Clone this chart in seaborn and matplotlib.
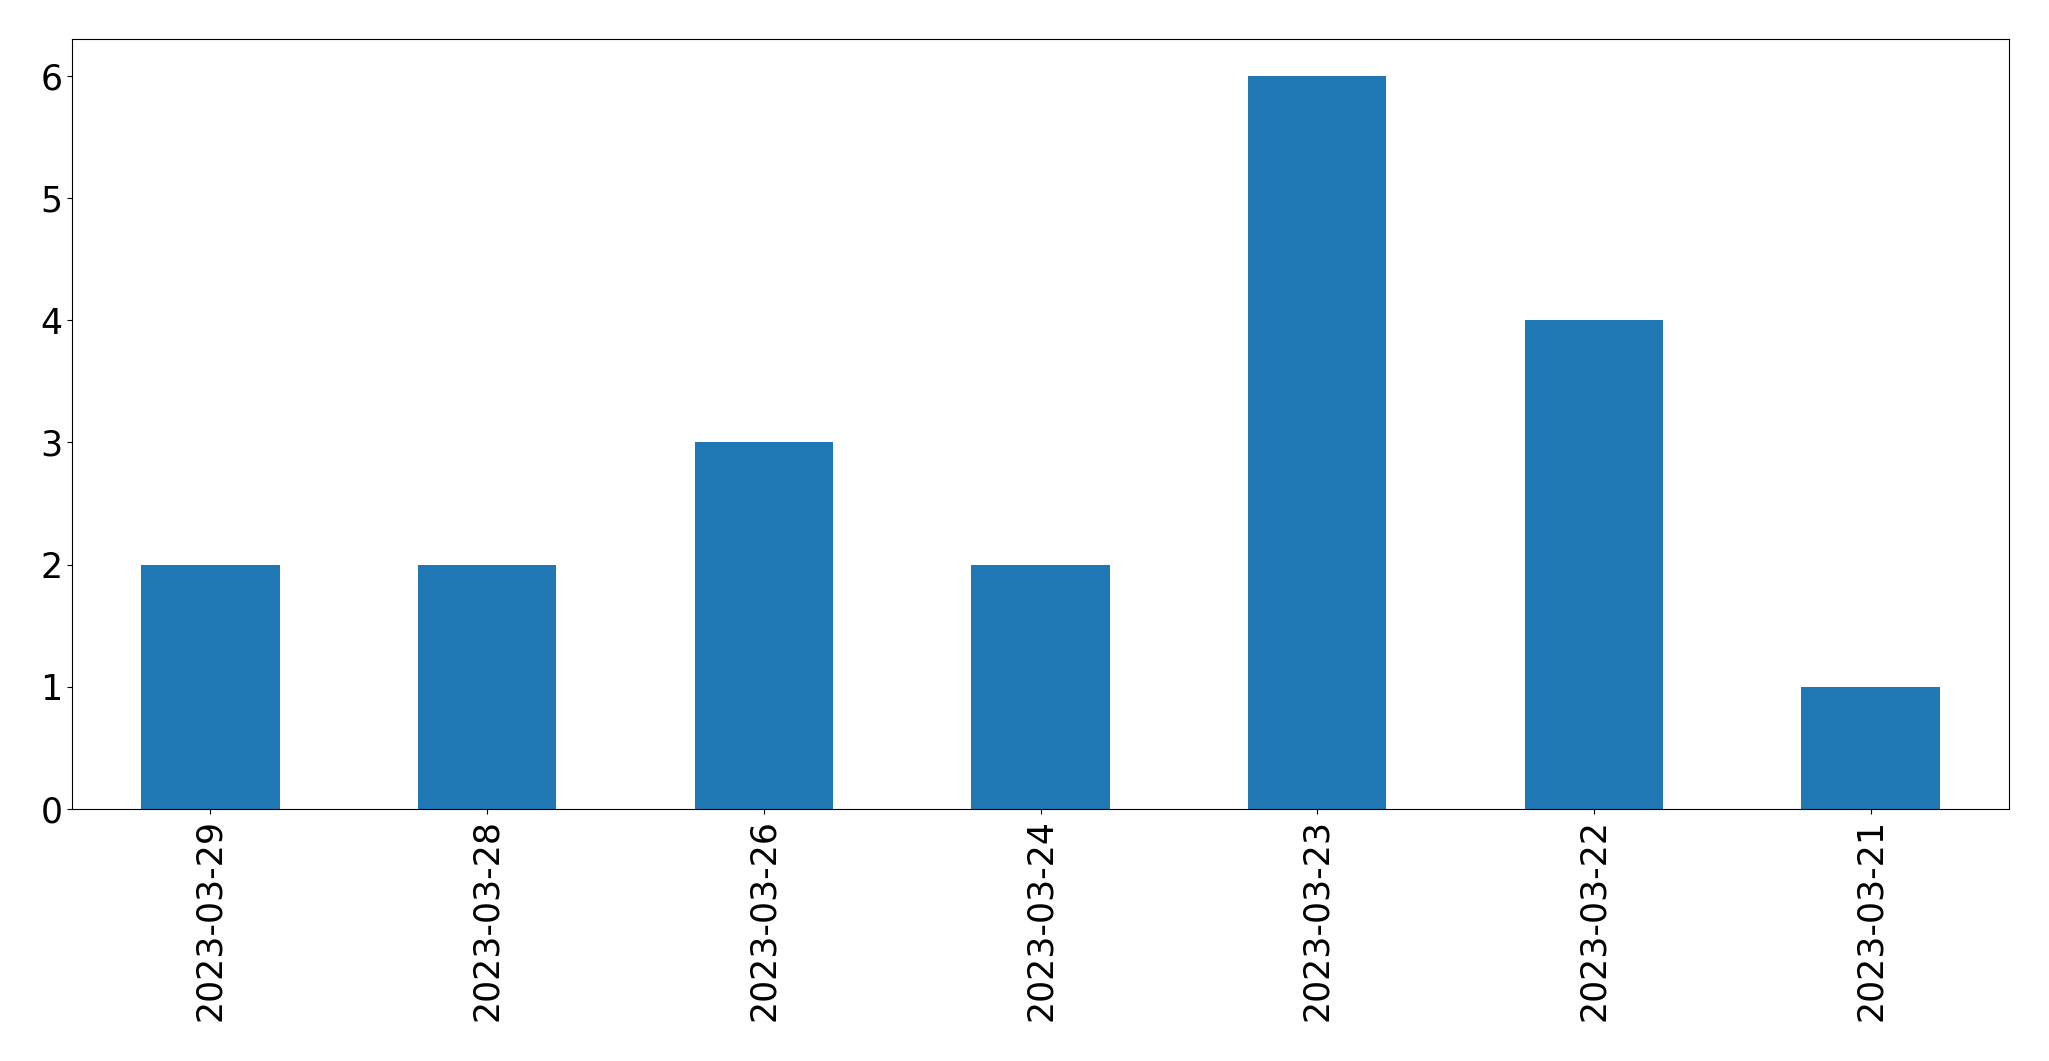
import matplotlib
matplotlib.use("Agg")
import matplotlib.pyplot as plt
import seaborn as sns
import pandas as pd

dates = ["2023-03-29", "2023-03-28", "2023-03-26", "2023-03-24",
         "2023-03-23", "2023-03-22", "2023-03-21"]
counts = [2, 2, 3, 2, 6, 4, 1]

df = pd.DataFrame({"date": dates, "count": counts})

fig = plt.figure(figsize=(20.49, 10.61), dpi=100)
ax = fig.add_axes([72 / 2049, 1 - 809 / 1061, (2009 - 72) / 2049, (809 - 39) / 1061])
sns.barplot(data=df, x="date", y="count", order=dates, color="#1f77b4",
            saturation=1, width=0.5, ax=ax, errorbar=None)
ax.set_xlim(-0.5, len(dates) - 0.5)
ax.set_ylim(0, 6.3)
ax.set_xlabel("")
ax.set_ylabel("")
ax.tick_params(axis="both", labelsize=25)
ax.tick_params(axis="x", rotation=90)
fig.savefig("out.png", dpi=100)
